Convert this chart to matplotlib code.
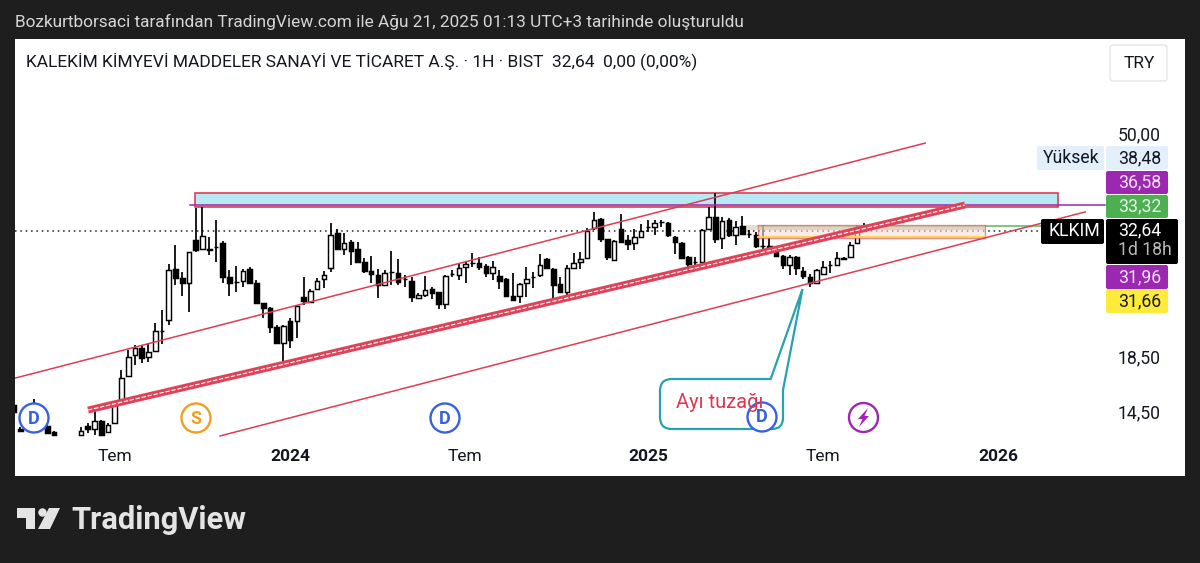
"""KLKIM weekly candles on a log scale, TradingView snapshot look."""
import numpy as np
import matplotlib
matplotlib.use("Agg")
import matplotlib.pyplot as plt
from matplotlib.patches import Circle, PathPatch, Polygon, Rectangle, FancyBboxPatch
from matplotlib.path import Path
from matplotlib.ticker import NullLocator

plt.rcParams["font.family"] = ["Roboto", "DejaVu Sans"]

nan = float("nan")
lead_opens = [14.92, 13.42, nan, 13.96, nan, 13.60, 13.24, nan, nan, nan]
lead_highs = [15.06, 13.54, nan, 15.33, nan, 13.78, 13.30, nan, nan, nan]
lead_lows = [14.34, 13.24, nan, 13.71, nan, 13.18, 13.07, nan, nan, nan]
lead_closes = [14.47, 13.30, nan, 14.60, nan, 13.18, 13.07, nan, nan, nan]

opens = [
    13.07, 13.60, 13.42, 13.92, 13.26, 13.78, 15.13, 16.98, 18.64, 19.23,
    18.48, 18.98, 20.74, 21.78, 27.32, 26.25, 25.68, 31.08, 29.86, 29.86,
    30.10, 30.66, 26.37, 25.79, 25.90, 27.32, 25.68, 23.50, 22.98, 21.11,
    19.67, 21.68, 21.68, 24.13, 23.60, 25.00, 26.14, 27.44, 32.07, 29.86,
    30.80, 29.86, 28.18, 27.08, 26.60, 25.45, 26.96, 26.84, 26.14, 25.90,
    24.03, 24.35, 25.00, 24.67, 23.39, 26.72, 26.60, 27.57, 28.06, 28.06,
    27.69, 26.84, 26.49, 26.14, 24.24, 24.24, 25.68, 26.37, 26.60, 28.56,
    27.32, 25.57, 24.67, 27.44, 28.18, 28.69, 32.78, 34.11, 31.22, 28.43,
    32.64, 31.08, 30.66, 31.50, 32.93, 32.93, 33.67, 33.52, 31.50, 30.66,
    28.82, 28.18, 28.18, 32.64, 34.42, 31.36, 33.96, 31.78, 33.08, 31.92,
    31.78, 30.24, 30.24, 29.86, 28.95, 27.82, 28.82, 27.08, 26.37, 25.68,
    26.72, 27.82, 27.82, 28.69, 28.82, 30.66, 33.08,
]
highs = [
    13.52, 13.78, 14.60, 13.96, 13.78, 15.06, 17.44, 19.06, 19.49, 19.49,
    19.67, 21.49, 22.77, 27.94, 30.40, 26.96, 29.46, 35.83, 35.99, 31.50,
    33.96, 30.94, 27.20, 27.69, 27.32, 27.57, 26.02, 23.50, 23.08, 21.30,
    21.30, 21.98, 23.29, 26.37, 25.00, 26.25, 27.08, 33.52, 32.64, 32.07,
    31.08, 30.80, 28.69, 28.95, 27.32, 27.20, 29.59, 28.56, 26.60, 26.37,
    24.56, 26.49, 25.23, 24.67, 26.60, 27.20, 27.94, 28.18, 29.33, 28.82,
    27.94, 28.31, 27.20, 26.25, 26.84, 25.68, 27.57, 26.96, 29.20, 28.69,
    27.44, 26.37, 27.82, 29.33, 29.46, 32.78, 35.20, 34.27, 31.22, 31.08,
    34.89, 31.78, 32.64, 33.37, 33.96, 33.96, 33.96, 33.67, 31.64, 30.80,
    28.95, 28.82, 32.64, 35.99, 38.30, 34.42, 34.27, 33.81, 34.58, 32.49,
    32.21, 33.23, 31.36, 29.86, 29.07, 29.07, 28.95, 27.57, 26.72, 27.32,
    28.31, 28.31, 29.46, 28.82, 30.80, 33.23, 33.52,
]
lows = [
    13.07, 13.18, 13.07, 13.07, 13.26, 13.78, 15.10, 16.90, 17.83, 17.99,
    18.07, 18.89, 19.58, 21.30, 25.45, 24.24, 22.57, 29.46, 29.86, 29.07,
    28.18, 25.68, 24.24, 24.67, 25.23, 25.68, 23.39, 21.98, 20.56, 19.67,
    17.99, 19.23, 20.11, 23.29, 23.50, 24.89, 25.12, 26.96, 29.72, 29.07,
    27.82, 28.06, 26.84, 25.68, 24.03, 25.45, 25.45, 25.45, 25.23, 23.60,
    23.92, 24.13, 23.92, 22.87, 22.87, 26.37, 26.02, 25.68, 27.57, 27.20,
    26.37, 26.02, 25.00, 24.24, 23.81, 23.50, 24.13, 25.12, 26.37, 27.32,
    23.81, 24.56, 24.24, 27.32, 27.32, 28.56, 32.49, 30.80, 28.43, 28.31,
    30.66, 29.72, 29.72, 31.36, 32.21, 31.78, 32.93, 31.50, 29.20, 28.69,
    27.32, 27.57, 28.18, 32.49, 30.66, 29.86, 31.50, 30.38, 31.78, 31.36,
    29.99, 29.59, 29.72, 28.82, 27.32, 26.60, 26.60, 26.14, 25.23, 25.68,
    26.60, 26.84, 27.69, 28.56, 28.69, 30.66, 32.21,
]
closes = [
    13.32, 13.42, 13.90, 13.07, 13.66, 14.93, 16.82, 18.48, 19.23, 18.40,
    18.89, 20.74, 20.70, 27.20, 26.25, 25.68, 29.46, 29.72, 31.64, 29.72,
    30.10, 26.37, 25.68, 25.79, 27.08, 25.68, 23.50, 22.98, 21.11, 19.67,
    21.21, 19.93, 23.18, 23.70, 24.81, 25.90, 26.60, 31.78, 29.86, 30.66,
    29.59, 28.18, 27.08, 26.72, 25.45, 26.84, 26.96, 25.79, 26.14, 24.13,
    24.35, 24.89, 24.56, 23.39, 26.49, 26.72, 27.44, 27.94, 28.06, 27.57,
    26.84, 27.57, 25.90, 24.24, 23.81, 25.57, 26.14, 26.37, 27.82, 27.44,
    25.45, 24.67, 27.44, 28.06, 28.56, 32.35, 33.96, 31.22, 28.82, 30.94,
    30.80, 30.52, 31.50, 32.35, 32.93, 33.52, 33.60, 31.78, 30.80, 28.69,
    27.94, 28.18, 32.49, 34.42, 31.22, 33.81, 31.78, 32.93, 31.92, 31.92,
    30.24, 30.24, 29.86, 28.95, 27.82, 28.82, 27.44, 26.49, 25.68, 27.20,
    27.57, 27.82, 28.69, 28.56, 30.38, 32.93, 32.35,
]

time_ticks = [15.04, 40.98, 66.9, 94.04, 120.0, 145.9]
time_labels = ["Tem", "2024", "Tem", "2025", "Tem", "2026"]
price_ticks = [50.0, 18.5, 14.5]
price_labels = ["50,00", "18,50", "14,50"]

# trend lines and zones, (bar index, price)
upper_channel = ([0.2, 135.1], [16.82, 47.8])
mid_channel = ([11.04, 141.0], [14.6, 36.3])
lower_channel = ([30.6, 158.8], [13.01, 35.2])
blue_zone = (26.9, 154.8, 35.99, 38.3)
pink_zone = (110.3, 144.0, 31.36, 33.2)
tan_zone = (108.5, 144.0, 32.5, 33.2)
purple_level = (26.2, 161.8, 36.3)
green_level = (110.3, 154.0, 33.0)
yellow_level = (110.3, 144.0, 31.5)

BG = "#1e1e1e"
RED = "#dc3d55"
fig = plt.figure(figsize=(12, 5.63), dpi=100, facecolor=BG)
W, H = 1200.0, 563.0
ax = fig.add_axes([15 / W, 1 - 476 / H, 1170 / W, 437 / H], facecolor="white")
ax.set_yscale("log")
ax.set_xlim(0.218, 173.6)
ax.set_ylim(10.89, 75.9)
for s in ax.spines.values():
    s.set_visible(False)

x = np.arange(len(opens) + len(lead_opens))
o = np.array(lead_opens + opens)
h = np.array(lead_highs + highs)
l = np.array(lead_lows + lows)
c = np.array(lead_closes + closes)
ok = ~np.isnan(o)
up = c > o

ax.axhline(c[-1], xmax=(1040 - 15) / 1170, color="#222222", lw=1.1, ls=(0, (1, 2.5)), zorder=1)
ax.vlines(x[ok], l[ok], h[ok], color="black", lw=1.25, zorder=2)
bottoms = np.minimum(o, c)
heights = np.abs(c - o)
colors = ["white" if u else "black" for u in up]
ax.bar(x[ok], heights[ok], bottom=bottoms[ok], width=0.68, color=np.array(colors)[ok],
       edgecolor="black", linewidth=1.05, zorder=3)

# drawings sit above the candles
ax.add_patch(Rectangle((blue_zone[0], blue_zone[2]), blue_zone[1] - blue_zone[0],
                       blue_zone[3] - blue_zone[2], fc="#b8e8f2", ec=RED, lw=1.2, zorder=1.5))
ax.add_patch(Rectangle((pink_zone[0], pink_zone[2]), pink_zone[1] - pink_zone[0],
                       pink_zone[3] - pink_zone[2], fc="#f7dcdc", ec=RED, lw=1.0, alpha=0.6, zorder=4))
ax.add_patch(Rectangle((tan_zone[0], tan_zone[2]), tan_zone[1] - tan_zone[0],
                       tan_zone[3] - tan_zone[2], fc="#c9b58c", ec="none", alpha=0.45, zorder=4))
ax.plot(purple_level[:2], [purple_level[2]] * 2, color="#9c27b0", lw=1.1, zorder=4)
ax.plot(green_level[:2], [green_level[2]] * 2, color="#5cb860", lw=1.1, zorder=1.6)
ax.plot(yellow_level[:2], [yellow_level[2]] * 2, color="#f7d64a", lw=1.4, zorder=4)
ax.plot(*upper_channel, color=RED, lw=1.1, zorder=5)
ax.plot(*lower_channel, color=RED, lw=1.1, zorder=5)
ax.plot(*mid_channel, color="#de4359", lw=5.0, solid_capstyle="butt", zorder=5)
ax.plot(*mid_channel, color="white", lw=0.8, ls=(0, (4, 1.5)), zorder=6)

ax.set_xticks(time_ticks, time_labels)
for lab, t in zip(ax.get_xticklabels(), time_labels):
    lab.set_fontsize(12.5)
    lab.set_color("#131722")
    lab.set_fontweight("bold" if t.startswith("20") else "normal")
ax.tick_params(axis="x", length=0, pad=-27 * 0.72)
ax.set_yticks(price_ticks, price_labels)
ax.yaxis.set_minor_locator(NullLocator())
ax.yaxis.tick_right()
ax.tick_params(axis="y", which="both", length=0, pad=-67 * 0.72, labelsize=12.7, labelcolor="#131722")

# pixel overlay for the tags, badges and logo
ov = fig.add_axes([0, 0, 1, 1], facecolor="none")
ov.set_xlim(0, W)
ov.set_ylim(H, 0)
ov.axis("off")

ov.text(15, 22, "Bozkurtborsaci tarafından TradingView.com ile Ağu 21, 2025 01:13 UTC+3 tarihinde oluşturuldu",
        color="#d6d6d6", fontsize=12.45, va="center")
ov.text(26, 61, "KALEKİM KİMYEVİ MADDELER SANAYİ VE TİCARET A.Ş. · 1H · BIST  32,64  0,00 (0,00%)",
        color="#131722", fontsize=12.5, va="center")
ov.add_patch(FancyBboxPatch((1110, 45), 57, 36, boxstyle="round,pad=0,rounding_size=3",
                            fc="white", ec="#e6e6e6", lw=1))
ov.text(1139, 63, "TRY", color="#131722", fontsize=12.5, ha="center", va="center")


def tag(x0, x1, y0, y1, face, text, color="white", ha="left", tx=None):
    ov.add_patch(FancyBboxPatch((x0, y0), x1 - x0, y1 - y0, boxstyle="round,pad=0,rounding_size=2",
                                fc=face, ec="none"))
    ov.text(tx if tx else x0 + 12, (y0 + y1) / 2, text, color=color, fontsize=12.7, ha=ha, va="center")


tag(1037, 1104, 146, 170, "#e3effb", "Yüksek", color="#131722", tx=1043)
tag(1106, 1168, 146, 170, "#e3effb", "38,48", color="#131722", tx=1118)
tag(1106, 1168, 171, 194, "#9c27b0", "36,58", color="#f3e3f6", tx=1118)
tag(1106, 1168, 195, 218, "#4caf50", "33,32", color="#eaf6ea", tx=1118)
tag(1106, 1168, 265, 289, "#9c27b0", "31,96", color="#f3e3f6", tx=1118)
tag(1106, 1168, 289, 313, "#ffeb3b", "31,66", color="#131722", tx=1118)
tag(1041, 1104, 219, 244, "black", "KLKIM", tx=1048)
tag(1106, 1178, 219, 264, "black", "", tx=1118)
ov.text(1118, 230, "32,64", color="white", fontsize=12.7, va="center")
ov.text(1118, 250, "1d 18h", color="#b8b8b8", fontsize=12.7, va="center")

# callout
box = [
    (Path.MOVETO, (672, 379)), (Path.LINETO, (770.7, 379)), (Path.LINETO, (802.5, 289)),
    (Path.LINETO, (783, 390)), (Path.LINETO, (783, 418)), (Path.CURVE3, (783, 429)),
    (Path.CURVE3, (772, 429)), (Path.LINETO, (672, 429)), (Path.CURVE3, (660, 429)),
    (Path.CURVE3, (660, 417)), (Path.LINETO, (660, 391)), (Path.CURVE3, (660, 379)),
    (Path.CURVE3, (672, 379)), (Path.CLOSEPOLY, (672, 379)),
]
codes, verts = zip(*box)
ov.add_patch(PathPatch(Path(verts, codes), fc="white", ec="#26a3ac", lw=1.6))
ov.text(676, 403, "Ayı tuzağı", color="#e0364f", fontsize=14.5, va="center")


def badge(cx, cy, color, text):
    ov.add_patch(Circle((cx, cy), 14.5, fc="white", ec=color, lw=1.7))
    if text:
        ov.text(cx, cy + 0.5, text, color=color, fontsize=13, fontweight="bold", ha="center", va="center")


badge(34, 418, "#3861e0", "D")
badge(196, 418, "#f0a020", "S")
badge(445, 418, "#3861e0", "D")
badge(762, 417, "#3861e0", "D")
badge(863.5, 417.5, "#9c27b0", "")
ov.add_patch(Polygon([(868, 408), (858, 419), (862.5, 419), (859, 427), (869, 416), (864.5, 416)],
                     fc="#9c27b0", ec="none"))

# TradingView logo
LOGO = "#e4e4e4"
ov.add_patch(Polygon([(17, 508), (35, 508), (35, 529), (26, 529), (26, 518), (17, 518)], fc=LOGO, ec="none"))
ov.add_patch(Circle((42.5, 512.5), 4.2, fc=LOGO, ec="none"))
ov.add_patch(Polygon([(49, 508), (60, 508), (50, 529), (38, 529)], fc=LOGO, ec="none"))
ov.text(71, 520, "TradingView", color=LOGO, fontsize=22.2, fontweight="bold", va="center")

fig.savefig("out.png", dpi=100, facecolor=BG)
